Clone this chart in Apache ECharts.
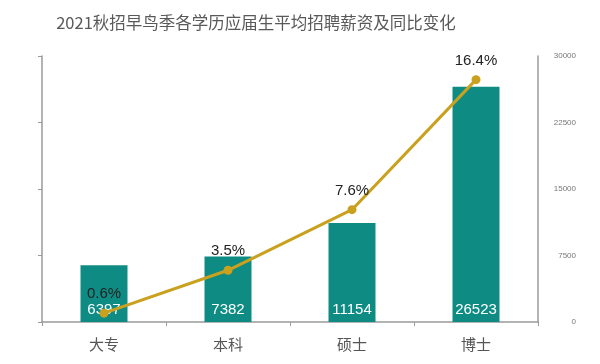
<!DOCTYPE html>
<html>
<head>
<meta charset="utf-8">
<script src="https://cdn.jsdelivr.net/npm/echarts@6/dist/echarts.min.js"></script>
<style>
html,body{margin:0;padding:0;background:#fff;}
#chart{width:600px;height:364px;}
</style>
</head>
<body>
<div id="chart"></div>
<script>
var titleText = '2021秋招早鸟季各学历应届生平均招聘薪资及同比变化';
var categories = ['大专', '本科', '硕士', '博士'];
var salary = [6397, 7382, 11154, 26523];
var growth = [0.6, 3.5, 7.6, 16.4];
var salaryTicks = [0, 7500, 15000, 22500, 30000];

var chart = echarts.init(document.getElementById('chart'));
var axisGray = '#9a9a9a';
var font = '"Noto Sans CJK SC", "Noto Sans", sans-serif';
var numFont = '"Liberation Sans", Arial, sans-serif';
chart.setOption({
  animation: false,
  backgroundColor: '#ffffff',
  title: {
    text: titleText,
    left: 251,
    textAlign: 'center',
    top: 9,
    textStyle: { fontSize: 16.5, fontWeight: 'normal', color: '#595959', fontFamily: font }
  },
  grid: { left: 42, right: 62, top: 56, bottom: 42 },
  xAxis: {
    type: 'category',
    data: categories,
    boundaryGap: true,
    axisLine: { lineStyle: { color: axisGray, width: 1.5 } },
    axisTick: { show: true, length: 4, lineStyle: { color: axisGray } },
    axisLabel: { fontSize: 15, color: '#555', margin: 15, fontFamily: font }
  },
  yAxis: [
    {
      type: 'value',
      position: 'left',
      min: 0, max: 18, interval: 4.5,
      axisLine: { show: true, lineStyle: { color: axisGray, width: 1.5 } },
      axisTick: { show: true, length: 4, lineStyle: { color: axisGray } },
      axisLabel: { show: false },
      splitLine: { show: false }
    },
    {
      type: 'value',
      position: 'right',
      min: salaryTicks[0], max: salaryTicks[salaryTicks.length - 1], interval: salaryTicks[1] - salaryTicks[0],
      axisLine: { show: true, lineStyle: { color: axisGray, width: 1.5 } },
      axisTick: { show: false },
      axisLabel: {
        fontSize: 8, color: '#777', align: 'right', margin: 38, fontFamily: numFont,
        formatter: function (v) { return String(v); }
      },
      splitLine: { show: false }
    }
  ],
  series: [
    {
      type: 'bar',
      yAxisIndex: 1,
      data: salary,
      barWidth: 47,
      itemStyle: { color: '#0E8C84' },
      label: {
        show: true,
        position: 'insideBottom',
        distance: 5,
        color: '#fff',
        fontSize: 15,
        fontFamily: numFont
      },
      z: 2
    },
    {
      type: 'line',
      yAxisIndex: 0,
      data: growth,
      symbol: 'circle',
      symbolSize: 9,
      lineStyle: { color: '#C9A11E', width: 3 },
      itemStyle: { color: '#C9A11E' },
      label: {
        show: true,
        position: 'top',
        distance: 7,
        color: '#222',
        fontSize: 15,
        fontFamily: numFont,
        formatter: function (p) { return p.value.toFixed(1) + '%'; }
      },
      z: 3
    }
  ]
});
</script>
</body>
</html>
